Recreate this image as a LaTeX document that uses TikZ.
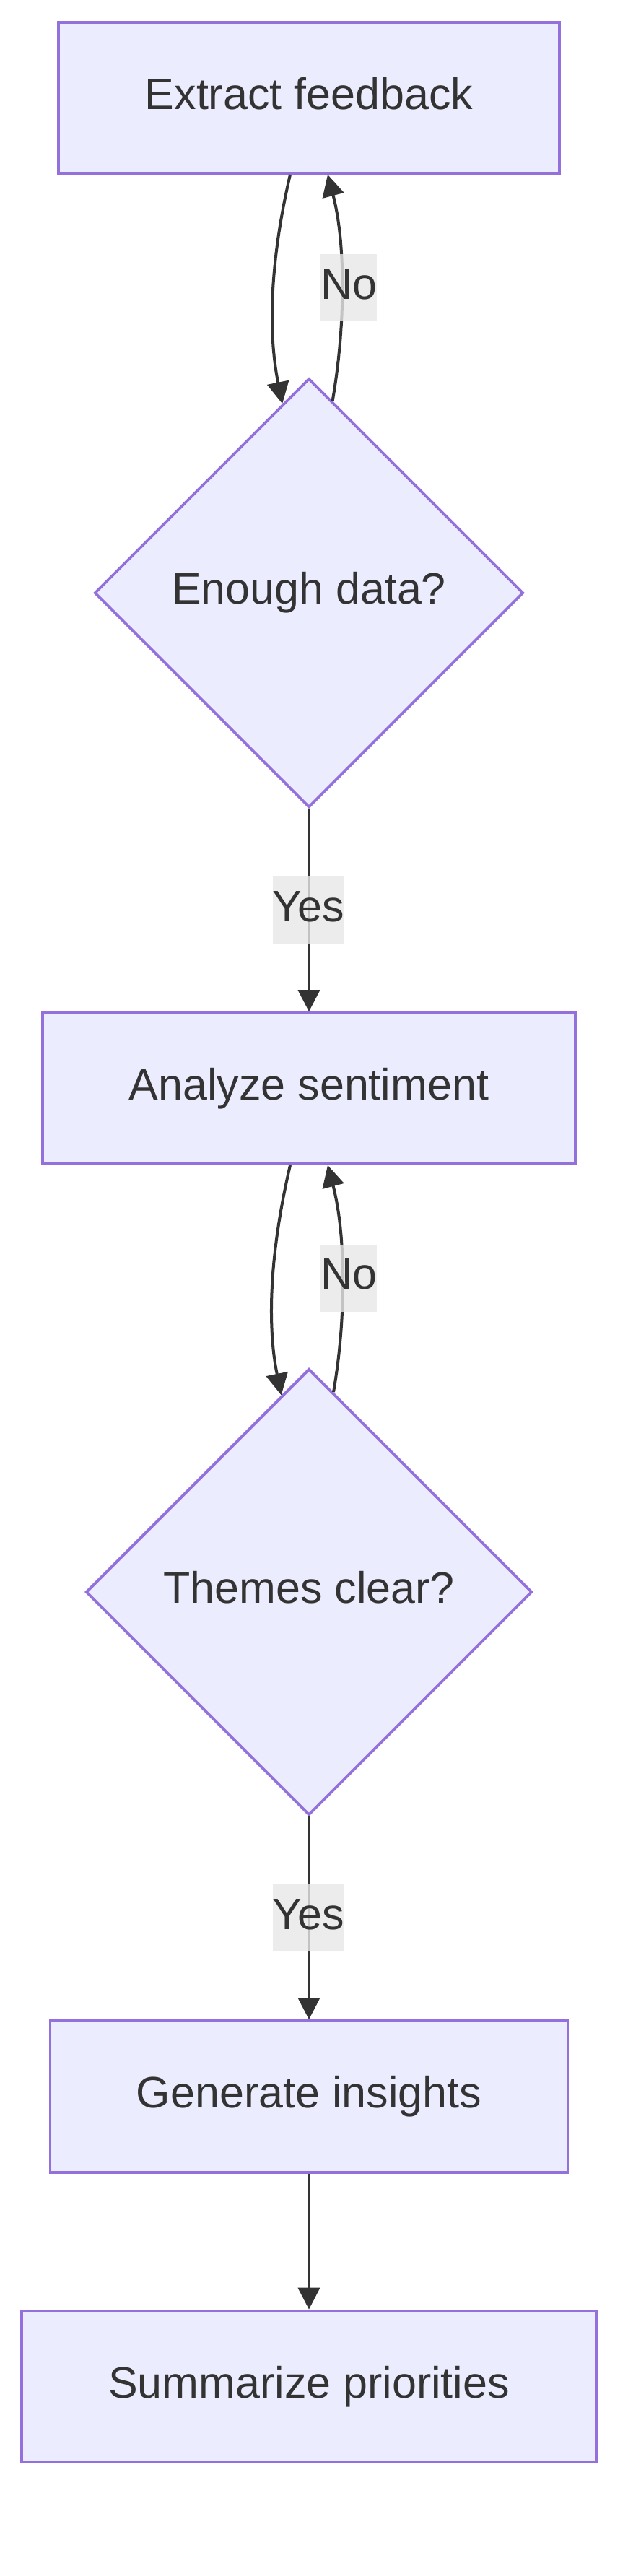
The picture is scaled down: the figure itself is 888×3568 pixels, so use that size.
\documentclass[tikz,border=0pt]{standalone}
\usepackage{fontspec}
\setmainfont{Liberation Sans}
\usetikzlibrary{shapes.geometric,arrows.meta}
\definecolor{nodefill}{HTML}{ECECFF}
\definecolor{nodeborder}{HTML}{9370DB}
\definecolor{inkc}{HTML}{333333}
\definecolor{lblbg}{HTML}{E8E8E8}
\tikzset{
  base/.style={font=\fontsize{61pt}{73pt}\selectfont, text=inkc, text height=44pt, text depth=13pt},
  box/.style={base, rectangle, draw=nodeborder, fill=nodefill, line width=3.8pt, minimum height=209pt, inner sep=0pt},
  dia/.style={base, diamond, aspect=1, draw=nodeborder, fill=nodefill, line width=3.8pt, inner sep=0pt},
  edge/.style={draw=inkc, line width=4pt, -{Triangle[length=30pt,width=30pt]}},
  lbl/.style={base, fill=lblbg, fill opacity=0.8, text opacity=1, inner xsep=0pt, inner ysep=18pt}
}
\begin{document}
\begin{tikzpicture}[x=1pt,y=-1pt]
\useasboundingbox[fill=white] (0,0) rectangle (888,3568);
\node[box, minimum width=694pt] (b1) at (428,135.5) {Extract feedback};
\node[dia, minimum width=594pt, minimum height=594pt] (d1) at (428,821.25) {Enough data?};
\node[box, minimum width=738pt] (b2) at (428,1507.5) {Analyze sentiment};
\node[dia, minimum width=618pt, minimum height=618pt] (d2) at (428,2205) {Themes clear?};
\node[box, minimum width=717pt, minimum height=210pt] (b3) at (428,2904) {Generate insights};
\node[box, minimum width=796pt, minimum height=210pt] (b4) at (428,3305.5) {Summarize priorities};

\draw[edge] ([xshift=-26pt]b1.south) .. controls +(-28,120) and +(-20,-98) .. (d1.98);
\draw[edge] (d1.83) .. controls +(17,-97) and +(26,99) .. ([xshift=26pt]b1.south);
\draw[edge] (d1.south) -- (b2.north);
\draw[edge] ([xshift=-26pt]b2.south) .. controls +(-28,120) and +(-20,-98) .. (d2.98);
\draw[edge] (d2.83) .. controls +(17,-97) and +(26,99) .. ([xshift=26pt]b2.south);
\draw[edge] (d2.south) -- (b3.north);
\draw[edge] (b3.south) -- (b4.north);

\node[lbl] (n1) at (483,398.5) {No};
\node[lbl] (y1) at (427.5,1260.5) {Yes};
\node[lbl] (n2) at (483,1770) {No};
\node[lbl] (y2) at (427.5,2656.5) {Yes};
\end{tikzpicture}
\end{document}
